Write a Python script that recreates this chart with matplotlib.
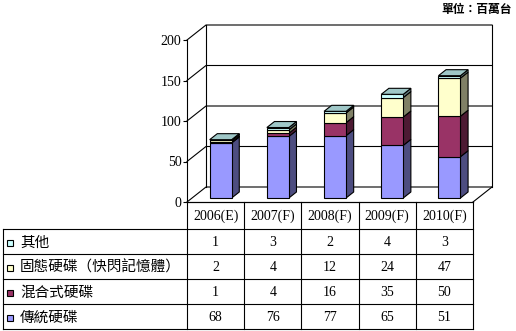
import numpy as np
import matplotlib.pyplot as plt
from matplotlib.patches import Polygon, Rectangle
from matplotlib.colors import to_rgb

years = ["2006(E)", "2007(F)", "2008(F)", "2009(F)", "2010(F)"]
series = ["傳統硬碟", "混合式硬碟", "固態硬碟（快閃記憶體）", "其他"]
hdd = [68, 76, 77, 65, 51]
hybrid = [1, 4, 16, 35, 50]
ssd = [2, 4, 12, 24, 47]
other = [1, 3, 2, 4, 3]
y_ticks = [0, 50, 100, 150, 200]
front_colors = ["#9999FF", "#993366", "#FFFFCC", "#CCFFFF"]

W, H = 516, 331
LW = 0.8
NUM_FONT = ["Liberation Serif", "Noto Sans CJK TC"]
CJK_FONT = ["Noto Sans CJK TC", "DejaVu Sans"]


def px_box(x0, y0, x1, y1):
    # pixel box (top-left origin) -> figure fraction rect
    return [x0 / W, 1 - y1 / H, (x1 - x0) / W, (y1 - y0) / H]


def shade(c, f):
    return tuple(v * f for v in to_rgb(c))


fig = plt.figure(figsize=(W / 100, H / 100), dpi=100)

# ---- 3D-look stacked columns ----
n = len(years)
DX = 19 / 57.2          # depth offset, category units
DY = 15 / 0.81          # depth offset, value units
ax = fig.add_axes(px_box(187, 25, 492, 202))
ax.set_xlim(0, n + DX)
ax.set_ylim(0, y_ticks[-1] + DY)

line = dict(color="k", lw=LW, clip_on=False, zorder=1)
for v in y_ticks:
    ax.plot([0, DX, n + DX], [v, v + DY, v + DY], **line)
ax.plot([DX, DX], [DY, y_ticks[-1] + DY], **line)
ax.plot([n + DX, n + DX], [DY, y_ticks[-1] + DY], **line)
ax.plot([n, n + DX], [0, DY], **line)
ax.plot([0, n], [0, 0], **line)

for side in ["top", "right", "bottom"]:
    ax.spines[side].set_visible(False)
ax.spines["left"].set_bounds(0, y_ticks[-1])
ax.spines["left"].set_linewidth(LW)
ax.set_xticks([])
ax.set_yticks(y_ticks)
ax.set_yticklabels([str(v) for v in y_ticks], family=NUM_FONT, fontsize=10)
ax.tick_params(axis="y", length=3, width=LW, pad=1)
ax.patch.set_visible(False)

stack = np.array([hdd, hybrid, ssd, other], dtype=float)
bottoms = np.vstack([np.zeros(n), np.cumsum(stack, axis=0)[:-1]])
totals = stack.sum(axis=0)
bar_w = 22 / 57.2
d0, d1 = 0.267, 0.667
ddx, ddy = (d1 - d0) * DX, (d1 - d0) * DY
xc = np.arange(n) + 0.5 + d0 * DX

for s in range(len(series)):
    base = bottoms[s] + d0 * DY
    ax.bar(xc, stack[s], bottom=base, width=bar_w, color=front_colors[s],
           edgecolor="k", lw=LW, zorder=3)
    for i in range(n):
        xr = xc[i] + bar_w / 2
        b, t = base[i], base[i] + stack[s, i]
        ax.add_patch(Polygon([(xr, b), (xr + ddx, b + ddy), (xr + ddx, t + ddy), (xr, t)],
                             fc=shade(front_colors[s], 0.5), ec="k", lw=LW, zorder=2))

for i in range(n):
    xl, xr = xc[i] - bar_w / 2, xc[i] + bar_w / 2
    t = totals[i] + d0 * DY
    ax.add_patch(Polygon([(xl, t), (xr, t), (xr + ddx, t + ddy), (xl + ddx, t + ddy)],
                         fc=shade(front_colors[-1], 0.78), ec="k", lw=LW, zorder=4))

# ---- data table ----
tx = fig.add_axes(px_box(3, 202, 473, 329))
left = -(187 - 3) / 57.2
hh = 1.07
nrows = len(series)
tx.set_xlim(left, n)
tx.set_ylim(hh + nrows, 0)
tx.axis("off")

tline = dict(color="k", lw=LW, clip_on=False)
tx.plot([0, n], [0, 0], **tline)
for r in range(nrows + 1):
    tx.plot([left, n], [hh + r, hh + r], **tline)
tx.plot([left, left], [hh, hh + nrows], **tline)
for j in range(n + 1):
    tx.plot([j, j], [0, hh + nrows], **tline)

for j, yr in enumerate(years):
    tx.text(j + 0.5, hh / 2 + 0.05, yr, ha="center", va="center",
            family=NUM_FONT, fontsize=10)

sq_w, sq_h = 6 / 57.2, 6 / 25.3
for r, s in enumerate(range(nrows - 1, -1, -1)):
    yc = hh + r + 0.55
    tx.add_patch(Rectangle(((7 - 3) / 57.2 + left, yc - sq_h / 2), sq_w, sq_h,
                           fc=front_colors[s], ec="k", lw=LW, clip_on=False))
    tx.text(left + (20 - 3) / 57.2, yc, series[s], ha="left", va="center",
            family=CJK_FONT, fontsize=10.5)
    for j in range(n):
        tx.text(j + 0.5, yc, str(int(stack[s, j])), ha="center", va="center",
                family=NUM_FONT, fontsize=10)

fig.text(512 / W, 1 - 10 / H, "單位：百萬台", ha="right", va="center",
         family=CJK_FONT, fontsize=8.5, fontweight="bold")

fig.savefig("out.png", dpi=100)
